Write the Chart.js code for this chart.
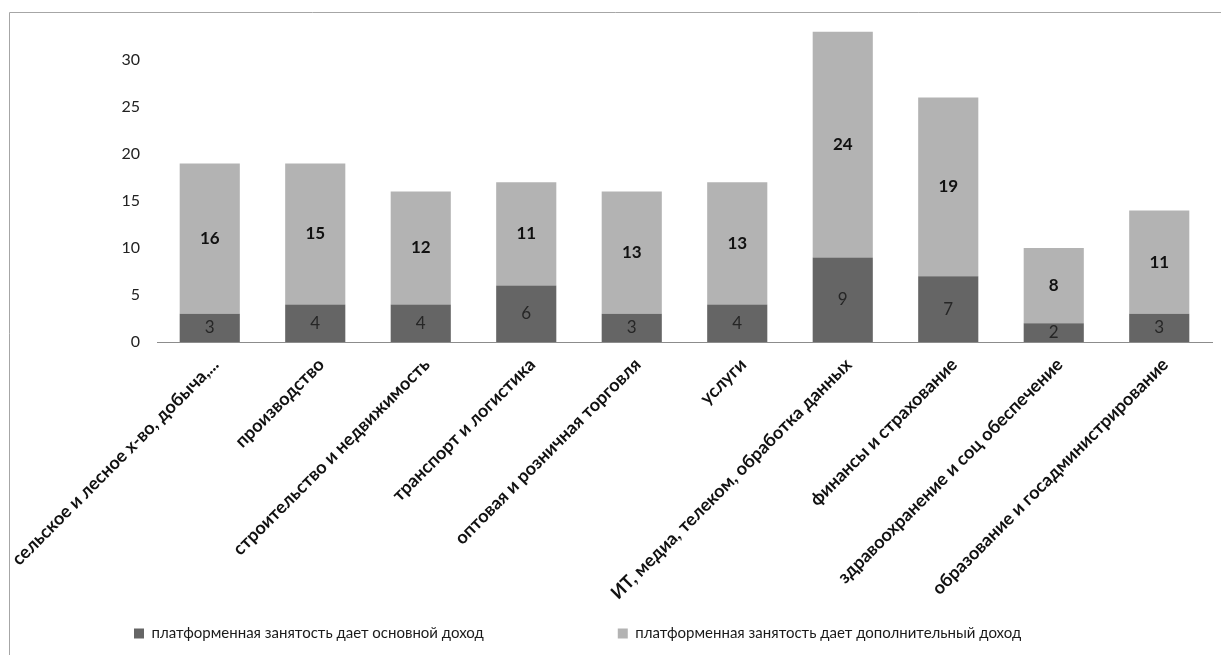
<!DOCTYPE html>
<html>
<head>
<meta charset="utf-8">
<script src="https://cdn.jsdelivr.net/npm/chart.js@4"></script>
<style>
  html, body { margin: 0; padding: 0; background: #ffffff; }
  #wrap { width: 1221px; height: 655px; position: relative; }
</style>
</head>
<body>
<div id="wrap"><canvas id="c" width="1221" height="655"></canvas></div>
<script>
const categories = [
  "сельское и лесное х-во, добыча,...",
  "производство",
  "строительство и недвижимость",
  "транспорт и логистика",
  "оптовая и розничная торговля",
  "услуги",
  "ИТ, медиа, телеком, обработка данных",
  "финансы и страхование",
  "здравоохранение и соц обеспечение",
  "образование и госадминистрирование"
];
const mainIncome = [3, 4, 4, 6, 3, 4, 9, 7, 2, 3];
const extraIncome = [16, 15, 12, 11, 13, 13, 24, 19, 8, 11];
const seriesNames = [
  "платформенная занятость дает основной доход",
  "платформенная занятость дает дополнительный доход"
];
const yTicks = [0, 5, 10, 15, 20, 25, 30];

const FONT = "Lato, 'Open Sans', 'DejaVu Sans', sans-serif";

const framePlugin = {
  id: 'frame',
  beforeDraw(chart) {
    const ctx = chart.ctx;
    ctx.save();
    ctx.fillStyle = '#ffffff';
    ctx.fillRect(0, 0, chart.width, chart.height);
    ctx.strokeStyle = '#a6a6a6';
    ctx.lineWidth = 1;
    ctx.beginPath();
    ctx.moveTo(9.5, chart.height);
    ctx.lineTo(9.5, 12.5);
    ctx.lineTo(chart.width, 12.5);
    ctx.stroke();
    ctx.restore();
  }
};

// let rotated category labels extend below the axis box (they overlap the legend's empty padding)
const labelAreaPlugin = {
  id: 'labelArea',
  afterLayout(chart) {
    chart.scales.x.bottom = chart.height;
  }
};

const valueLabels = {
  id: 'valueLabels',
  afterDatasetsDraw(chart) {
    const ctx = chart.ctx;
    ctx.save();
    ctx.textAlign = 'center';
    ctx.textBaseline = 'middle';
    chart.data.datasets.forEach((ds, di) => {
      const meta = chart.getDatasetMeta(di);
      ctx.font = (di === 0 ? 'normal ' : 'bold ') + '17px ' + FONT;
      ctx.fillStyle = di === 0 ? '#262626' : '#111111';
      meta.data.forEach((bar, i) => {
        const v = ds.data[i];
        const y = (bar.y + bar.base) / 2;
        ctx.fillText(String(v), bar.x, y);
      });
    });
    ctx.restore();
  }
};

new Chart(document.getElementById('c'), {
  type: 'bar',
  data: {
    labels: categories,
    datasets: [
      { label: seriesNames[0], data: mainIncome, backgroundColor: '#656565', borderWidth: 0,
        categoryPercentage: 1, barPercentage: 0.57 },
      { label: seriesNames[1], data: extraIncome, backgroundColor: '#b3b3b3', borderWidth: 0,
        categoryPercentage: 1, barPercentage: 0.57 }
    ]
  },
  options: {
    responsive: false,
    animation: false,
    layout: { padding: { left: 0, top: 13, right: 9, bottom: 4 } },
    plugins: {
      legend: {
        position: 'bottom',
        align: 'start',
        labels: {
          boxWidth: 10, boxHeight: 10, padding: 134,
          color: '#1a1a1a',
          font: { family: FONT, size: 15 }
        }
      },
      tooltip: { enabled: false }
    },
    scales: {
      x: {
        stacked: true,
        grid: { display: false },
        border: { display: true, color: '#8c8c8c', width: 1 },
        afterFit(scale) { scale.height = 150; scale.paddingLeft = 0; scale.paddingRight = 0; },
        ticks: {
          autoSkip: false, maxRotation: 45, minRotation: 45,
          padding: 4, labelOffset: 6,
          color: '#111111',
          font: { family: FONT, size: 18, weight: 'bold' }
        }
      },
      y: {
        stacked: true,
        min: 0, max: 35,
        grid: { display: false },
        border: { display: false },
        afterFit(scale) { scale.width = 157; scale.paddingTop = 0; scale.paddingBottom = 0; },
        afterBuildTicks(scale) { scale.ticks = yTicks.concat([35]).map(v => ({ value: v })); },
        ticks: {
          padding: 9,
          color: '#222222',
          font: { family: FONT, size: 16 },
          callback: (v) => (yTicks.includes(v) ? String(v) : '')
        }
      }
    }
  },
  plugins: [framePlugin, labelAreaPlugin, valueLabels]
});
</script>
</body>
</html>
